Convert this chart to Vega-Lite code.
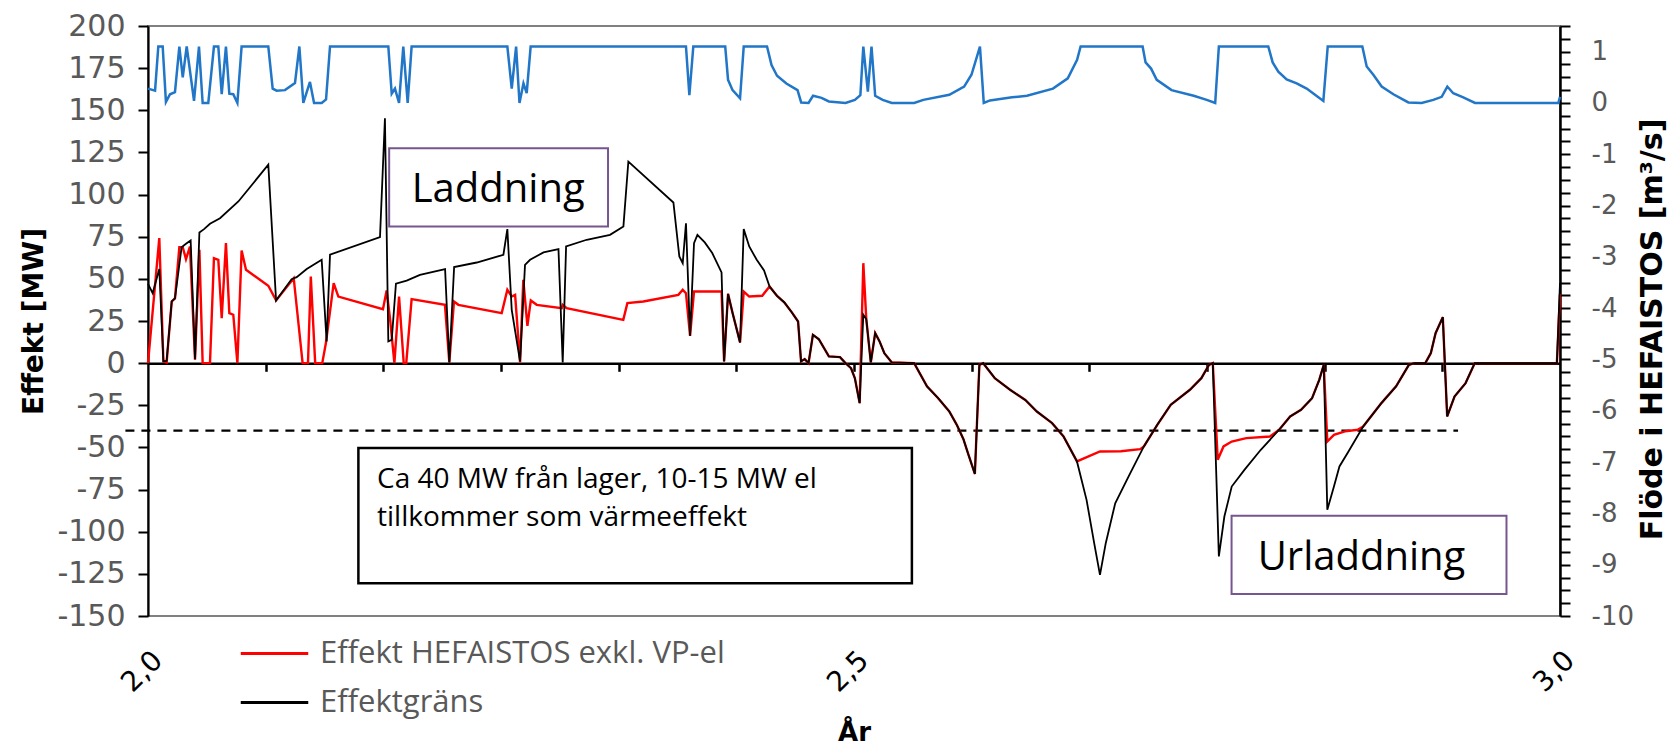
{
  "$schema": "https://vega.github.io/schema/vega-lite/v6.json",
  "width": 1412,
  "height": 590,
  "autosize": "none",
  "padding": {"left": 148, "top": 26, "right": 113, "bottom": 131},
  "background": "white",
  "config": {
    "view": {"stroke": "#808080", "strokeWidth": 2},
    "axis": {"labelOverlap": false, "grid": false}
  },
  "datasets": {
    "red": [
      {"t":2.0,"v":0},{"t":2.008,"v":74.2},{"t":2.0109,"v":1},{"t":2.0132,"v":0.4},{"t":2.0168,"v":36.6},{"t":2.0191,"v":38.4},{"t":2.0222,"v":68.8},{"t":2.0246,"v":68.8},{"t":2.0269,"v":61.7},{"t":2.0297,"v":69.2},{"t":2.0333,"v":2},{"t":2.0364,"v":67.2},{"t":2.0387,"v":0},{"t":2.0439,"v":0},{"t":2.0467,"v":62.3},{"t":2.0498,"v":61.3},{"t":2.0522,"v":26.7},{"t":2.0552,"v":71.2},{"t":2.0576,"v":29.7},{"t":2.0604,"v":28.7},{"t":2.0633,"v":0},{"t":2.0663,"v":66.8},{"t":2.0694,"v":55.4},{"t":2.0852,"v":45.9},{"t":2.0907,"v":37.2},{"t":2.1032,"v":50.4},{"t":2.1095,"v":0},{"t":2.1133,"v":0},{"t":2.1153,"v":51.4},{"t":2.1184,"v":0},{"t":2.1234,"v":0},{"t":2.126,"v":11.9},{"t":2.1315,"v":47.5},{"t":2.1348,"v":39.5},{"t":2.1664,"v":32},{"t":2.169,"v":43.1},{"t":2.1715,"v":25.7},{"t":2.1745,"v":0},{"t":2.1778,"v":39.5},{"t":2.1811,"v":0},{"t":2.1829,"v":0},{"t":2.1867,"v":38},{"t":2.2103,"v":34.6},{"t":2.2134,"v":0.4},{"t":2.2167,"v":36.6},{"t":2.2198,"v":34.6},{"t":2.2505,"v":29.7},{"t":2.2545,"v":43.5},{"t":2.2576,"v":39.5},{"t":2.26,"v":40.5},{"t":2.2635,"v":0.4},{"t":2.2658,"v":49.4},{"t":2.2687,"v":22.1},{"t":2.2711,"v":37.2},{"t":2.2753,"v":34.6},{"t":2.293,"v":32.6},{"t":2.2937,"v":34.6},{"t":2.2965,"v":32.6},{"t":2.3366,"v":25.7},{"t":2.3395,"v":35.6},{"t":2.3508,"v":36.6},{"t":2.3756,"v":40.5},{"t":2.3787,"v":43.5},{"t":2.381,"v":41.5},{"t":2.3839,"v":16.2},{"t":2.3867,"v":42.5},{"t":2.4062,"v":42.5},{"t":2.408,"v":1.0},{"t":2.4108,"v":41.1},{"t":2.414,"v":29.7},{"t":2.4193,"v":12.3},{"t":2.4219,"v":42.5},{"t":2.4258,"v":39.5},{"t":2.435,"v":40},{"t":2.4402,"v":45.5},{"t":2.4455,"v":39.9},{"t":2.4507,"v":36},{"t":2.456,"v":30.1},{"t":2.4604,"v":24.7},{"t":2.4625,"v":1.0},{"t":2.4651,"v":2.4},{"t":2.4678,"v":0},{"t":2.4709,"v":16.8},{"t":2.4751,"v":14.2},{"t":2.4788,"v":8.9},{"t":2.4822,"v":4},{"t":2.4901,"v":3.6},{"t":2.494,"v":0},{"t":2.4979,"v":-3},{"t":2.5006,"v":-8.9},{"t":2.504,"v":-23.7},{"t":2.5066,"v":59.3},{"t":2.5087,"v":26.1},{"t":2.5119,"v":0.4},{"t":2.515,"v":17.8},{"t":2.5181,"v":12.9},{"t":2.5215,"v":5.9},{"t":2.5268,"v":0.4},{"t":2.5426,"v":0},{"t":2.5465,"v":-5.9},{"t":2.5517,"v":-13.8},{"t":2.5596,"v":-20.8},{"t":2.5675,"v":-28.7},{"t":2.5728,"v":-36.6},{"t":2.5775,"v":-45.1},{"t":2.5807,"v":-53.4},{"t":2.5856,"v":-65.7},{"t":2.5888,"v":-1},{"t":2.5915,"v":0},{"t":2.5997,"v":-8.9},{"t":2.6105,"v":-15.8},{"t":2.6213,"v":-21.8},{"t":2.6295,"v":-28.7},{"t":2.6403,"v":-35.6},{"t":2.6484,"v":-43.5},{"t":2.6579,"v":-58.3},{"t":2.6742,"v":-52.4},{"t":2.689,"v":-52.3},{"t":2.7027,"v":-51},{"t":2.7053,"v":-49.4},{"t":2.7148,"v":-36.6},{"t":2.7243,"v":-24.7},{"t":2.7379,"v":-15.8},{"t":2.746,"v":-8.9},{"t":2.7514,"v":-1},{"t":2.7541,"v":0},{"t":2.7576,"v":-57.3},{"t":2.7617,"v":-49.4},{"t":2.7675,"v":-46.5},{"t":2.7778,"v":-44.5},{"t":2.7946,"v":-43.5},{"t":2.8011,"v":-39.5},{"t":2.8089,"v":-31.6},{"t":2.8166,"v":-27.7},{"t":2.8244,"v":-20.8},{"t":2.8295,"v":-9.9},{"t":2.8327,"v":-1},{"t":2.8352,"v":-46.5},{"t":2.8399,"v":-42.5},{"t":2.8477,"v":-40.5},{"t":2.8567,"v":-39.5},{"t":2.8606,"v":-37.6},{"t":2.8735,"v":-23.7},{"t":2.8839,"v":-13.8},{"t":2.893,"v":-1},{"t":2.8969,"v":0},{"t":2.9046,"v":0},{"t":2.9085,"v":5.9},{"t":2.9119,"v":17.8},{"t":2.917,"v":27.3},{"t":2.9201,"v":-31.6},{"t":2.9253,"v":-19.8},{"t":2.9331,"v":-11.9},{"t":2.9396,"v":0},{"t":2.9978,"v":0},{"t":3.0,"v":41}
    ],
    "black": [
      {"t":2.0,"v":47},{"t":2.0033,"v":41.5},{"t":2.008,"v":55.8},{"t":2.0109,"v":1.0},{"t":2.0132,"v":1.4},{"t":2.0168,"v":36.6},{"t":2.0191,"v":38.4},{"t":2.0238,"v":68.8},{"t":2.0269,"v":70.8},{"t":2.0302,"v":72.8},{"t":2.0333,"v":2.4},{"t":2.0364,"v":77.5},{"t":2.0397,"v":79.5},{"t":2.0439,"v":82.7},{"t":2.051,"v":86},{"t":2.064,"v":95.9},{"t":2.0852,"v":117.7},{"t":2.0907,"v":37.2},{"t":2.1017,"v":49.8},{"t":2.1053,"v":51},{"t":2.1124,"v":55.8},{"t":2.123,"v":61.3},{"t":2.1265,"v":12.9},{"t":2.1289,"v":64.3},{"t":2.1643,"v":74.7},{"t":2.1678,"v":145.3},{"t":2.1702,"v":12.9},{"t":2.1726,"v":13.8},{"t":2.1756,"v":47.1},{"t":2.1832,"v":49},{"t":2.1926,"v":52.4},{"t":2.2104,"v":55.8},{"t":2.2134,"v":0.4},{"t":2.2168,"v":57},{"t":2.2328,"v":59.7},{"t":2.2517,"v":64.3},{"t":2.2545,"v":79.5},{"t":2.2576,"v":31.6},{"t":2.2635,"v":1},{"t":2.267,"v":58.3},{"t":2.2706,"v":61.3},{"t":2.2801,"v":65.7},{"t":2.2907,"v":67.6},{"t":2.2937,"v":0.4},{"t":2.2961,"v":69.2},{"t":2.3107,"v":73.2},{"t":2.3272,"v":76.1},{"t":2.3367,"v":81.1},{"t":2.3402,"v":119.6},{"t":2.3721,"v":95.3},{"t":2.3763,"v":63.3},{"t":2.3787,"v":59.3},{"t":2.381,"v":83},{"t":2.3839,"v":16.2},{"t":2.3867,"v":71.2},{"t":2.3891,"v":76.1},{"t":2.3943,"v":71.6},{"t":2.3996,"v":65.3},{"t":2.4062,"v":53.8},{"t":2.408,"v":1.0},{"t":2.4108,"v":41.1},{"t":2.414,"v":29.7},{"t":2.4193,"v":12.3},{"t":2.4219,"v":79.5},{"t":2.4258,"v":69.2},{"t":2.4311,"v":61.3},{"t":2.4363,"v":55},{"t":2.4402,"v":45.5},{"t":2.4455,"v":39.9},{"t":2.4507,"v":36},{"t":2.456,"v":30.1},{"t":2.4604,"v":24.7},{"t":2.4625,"v":1.0},{"t":2.4651,"v":2.4},{"t":2.4678,"v":0},{"t":2.4709,"v":16.8},{"t":2.4751,"v":14.2},{"t":2.4788,"v":8.9},{"t":2.4822,"v":4},{"t":2.4901,"v":3.6},{"t":2.494,"v":0},{"t":2.4979,"v":-3},{"t":2.5006,"v":-8.9},{"t":2.504,"v":-23.7},{"t":2.5066,"v":28.7},{"t":2.5087,"v":26.1},{"t":2.5119,"v":0.4},{"t":2.515,"v":17.8},{"t":2.5181,"v":12.9},{"t":2.5215,"v":5.9},{"t":2.5268,"v":0.4},{"t":2.5426,"v":0},{"t":2.5465,"v":-5.9},{"t":2.5517,"v":-13.8},{"t":2.5596,"v":-20.8},{"t":2.5675,"v":-28.7},{"t":2.5728,"v":-36.6},{"t":2.5775,"v":-45.1},{"t":2.5807,"v":-53.4},{"t":2.5856,"v":-65.7},{"t":2.5888,"v":-1},{"t":2.5915,"v":0},{"t":2.5997,"v":-8.9},{"t":2.6105,"v":-15.8},{"t":2.6213,"v":-21.8},{"t":2.6295,"v":-28.7},{"t":2.6403,"v":-35.6},{"t":2.6484,"v":-43.5},{"t":2.6579,"v":-58.3},{"t":2.6647,"v":-81.1},{"t":2.6701,"v":-106.8},{"t":2.6742,"v":-125.6},{"t":2.6783,"v":-106.8},{"t":2.685,"v":-83.1},{"t":2.6945,"v":-67.2},{"t":2.7053,"v":-49.4},{"t":2.7148,"v":-36.6},{"t":2.7243,"v":-24.7},{"t":2.7379,"v":-15.8},{"t":2.746,"v":-8.9},{"t":2.7514,"v":-1},{"t":2.7541,"v":0},{"t":2.7584,"v":-114.7},{"t":2.7623,"v":-91},{"t":2.7675,"v":-73.2},{"t":2.7765,"v":-63.3},{"t":2.7881,"v":-51.4},{"t":2.8011,"v":-39.5},{"t":2.8089,"v":-31.6},{"t":2.8166,"v":-27.7},{"t":2.8244,"v":-20.8},{"t":2.8295,"v":-9.9},{"t":2.8327,"v":-1},{"t":2.8352,"v":-87},{"t":2.8399,"v":-73.2},{"t":2.8438,"v":-61.3},{"t":2.8502,"v":-52.4},{"t":2.8606,"v":-37.6},{"t":2.8735,"v":-23.7},{"t":2.8839,"v":-13.8},{"t":2.893,"v":-1},{"t":2.8969,"v":0},{"t":2.9046,"v":0},{"t":2.9085,"v":5.9},{"t":2.9119,"v":17.8},{"t":2.917,"v":27.3},{"t":2.9201,"v":-31.6},{"t":2.9253,"v":-19.8},{"t":2.9331,"v":-11.9},{"t":2.9396,"v":0},{"t":2.9978,"v":0},{"t":3.0,"v":47.5}
    ],
    "blue": [
      {"t":2.0,"v":0.28},{"t":2.005,"v":0.24},{"t":2.0073,"v":1.1},{"t":2.0104,"v":1.1},{"t":2.0127,"v":0.02},{"t":2.0156,"v":0.17},{"t":2.0191,"v":0.21},{"t":2.0222,"v":1.1},{"t":2.0246,"v":0.5},{"t":2.0274,"v":1.1},{"t":2.0326,"v":0.04},{"t":2.0361,"v":1.1},{"t":2.0387,"v":0},{"t":2.0427,"v":0},{"t":2.0467,"v":1.1},{"t":2.0498,"v":1.1},{"t":2.0522,"v":0.17},{"t":2.0552,"v":1.1},{"t":2.0576,"v":0.18},{"t":2.0604,"v":0.17},{"t":2.0633,"v":0},{"t":2.0663,"v":1.1},{"t":2.0852,"v":1.1},{"t":2.0883,"v":0.28},{"t":2.0911,"v":0.24},{"t":2.097,"v":0.25},{"t":2.1041,"v":0.39},{"t":2.1072,"v":1.1},{"t":2.11,"v":0},{"t":2.1147,"v":0.41},{"t":2.1176,"v":0},{"t":2.123,"v":0},{"t":2.1261,"v":0.07},{"t":2.1289,"v":1.1},{"t":2.1702,"v":1.1},{"t":2.1726,"v":0.18},{"t":2.1749,"v":0.28},{"t":2.1778,"v":0},{"t":2.1808,"v":1.1},{"t":2.1839,"v":0},{"t":2.1867,"v":1.1},{"t":2.2545,"v":1.1},{"t":2.2576,"v":0.28},{"t":2.2607,"v":1.1},{"t":2.2631,"v":0},{"t":2.2659,"v":0.38},{"t":2.2682,"v":0.19},{"t":2.271,"v":1.1},{"t":2.381,"v":1.1},{"t":2.3834,"v":0.15},{"t":2.3862,"v":1.1},{"t":2.4088,"v":1.1},{"t":2.4108,"v":0.45},{"t":2.414,"v":0.25},{"t":2.4193,"v":0.09},{"t":2.4219,"v":1.1},{"t":2.4384,"v":1.1},{"t":2.4416,"v":0.74},{"t":2.4455,"v":0.53},{"t":2.4521,"v":0.38},{"t":2.46,"v":0.25},{"t":2.4626,"v":0.01},{"t":2.4678,"v":0},{"t":2.471,"v":0.14},{"t":2.477,"v":0.1},{"t":2.4822,"v":0.03},{"t":2.494,"v":0},{"t":2.5006,"v":0.06},{"t":2.5045,"v":0.15},{"t":2.5066,"v":1.1},{"t":2.5098,"v":0.22},{"t":2.5124,"v":1.1},{"t":2.515,"v":0.14},{"t":2.5203,"v":0.06},{"t":2.5268,"v":0},{"t":2.5426,"v":0},{"t":2.5491,"v":0.06},{"t":2.5675,"v":0.16},{"t":2.578,"v":0.32},{"t":2.5832,"v":0.55},{"t":2.5892,"v":1.1},{"t":2.5919,"v":0},{"t":2.5963,"v":0.05},{"t":2.612,"v":0.11},{"t":2.6225,"v":0.14},{"t":2.6409,"v":0.28},{"t":2.6514,"v":0.48},{"t":2.658,"v":0.84},{"t":2.6605,"v":1.1},{"t":2.7044,"v":1.1},{"t":2.7065,"v":0.79},{"t":2.7104,"v":0.67},{"t":2.7144,"v":0.45},{"t":2.7249,"v":0.25},{"t":2.7406,"v":0.14},{"t":2.7498,"v":0.06},{"t":2.7558,"v":0},{"t":2.7584,"v":1.1},{"t":2.7934,"v":1.1},{"t":2.7965,"v":0.79},{"t":2.8005,"v":0.61},{"t":2.8064,"v":0.46},{"t":2.8135,"v":0.38},{"t":2.8206,"v":0.28},{"t":2.8265,"v":0.16},{"t":2.8324,"v":0.04},{"t":2.8355,"v":1.1},{"t":2.86,"v":1.1},{"t":2.8631,"v":0.71},{"t":2.8678,"v":0.55},{"t":2.8737,"v":0.32},{"t":2.882,"v":0.17},{"t":2.8926,"v":0.01},{"t":2.902,"v":0},{"t":2.9103,"v":0.06},{"t":2.9162,"v":0.12},{"t":2.9202,"v":0.32},{"t":2.9244,"v":0.19},{"t":2.9315,"v":0.11},{"t":2.9398,"v":0},{"t":2.9988,"v":0},{"t":3.0,"v":0.12}
    ],
    "boxes": [
      {"k":"p","t1":2.1708,"t2":2.3258,"v1":127.5,"v2":81},
      {"k":"p","t1":2.7674,"t2":2.9621,"v1":-90.6,"v2":-136.9},
      {"k":"b","t1":2.149,"t2":2.541,"v1":-50.4,"v2":-130.5}
    ],
    "dash": [{"t1":1.984,"t2":2.9278,"v":-40}],
    "labels": [
      {"t":2.248,"v":95.5,"txt":"Laddning"},
      {"t":2.8594,"v":-123,"txt":"Urladdning"}
    ],
    "note": [
      {"t":2.1622,"v":-74.2,"txt":"Ca 40 MW från lager, 10-15 MW el"},
      {"t":2.1622,"v":-96.9,"txt":"tillkommer som värmeeffekt"}
    ]
  },
  "layer": [
    {
      "data": {"name": "boxes"},
      "transform": [{"filter": "datum.k == 'p'"}],
      "mark": {"type": "rect", "fill": "white", "stroke": "#76568f", "strokeWidth": 2},
      "encoding": {
        "x": {"field": "t1", "type": "quantitative", "scale": {"domain": [2, 3], "nice": false, "zero": false}, "axis": null},
        "x2": {"field": "t2"},
        "y": {"field": "v1", "type": "quantitative", "scale": {"domain": [-150, 200], "nice": false, "zero": false}, "axis": null},
        "y2": {"field": "v2"}
      }
    },
    {
      "data": {"name": "boxes"},
      "transform": [{"filter": "datum.k == 'b'"}],
      "mark": {"type": "rect", "fill": "white", "stroke": "#000000", "strokeWidth": 2.5},
      "encoding": {
        "x": {"field": "t1", "type": "quantitative", "scale": {"domain": [2, 3], "nice": false, "zero": false}, "axis": null},
        "x2": {"field": "t2"},
        "y": {"field": "v1", "type": "quantitative", "scale": {"domain": [-150, 200], "nice": false, "zero": false}, "axis": null},
        "y2": {"field": "v2"}
      }
    },
    {
      "data": {"name": "dash"},
      "mark": {"type": "rule", "color": "#000000", "strokeWidth": 2.2, "strokeDash": [9, 7]},
      "encoding": {
        "x": {"field": "t1", "type": "quantitative", "scale": {"domain": [2, 3], "nice": false, "zero": false}, "axis": null},
        "x2": {"field": "t2"},
        "y": {"field": "v", "type": "quantitative", "scale": {"domain": [-150, 200], "nice": false, "zero": false}, "axis": null}
      }
    },
    {
      "data": {"name": "red"},
      "mark": {"type": "line", "strokeWidth": 2.4},
      "encoding": {
        "x": {
          "field": "t", "type": "quantitative",
          "scale": {"domain": [2, 3], "nice": false, "zero": false},
          "axis": {
            "orient": "bottom", "values": [2, 2.5, 3],
            "labelExpr": "replace(format(datum.value, '.1f'), '.', ',')",
            "labelAngle": -45, "labelFont": "DejaVu Sans", "labelFontSize": 28, "labelColor": "#000000",
            "ticks": false, "domain": false, "grid": false, "labelPadding": 30, "labelFlush": false,
            "title": "År", "titleFont": "DejaVu Sans", "titleFontWeight": "bold", "titleFontSize": 26,
            "titleColor": "#000000", "titlePadding": 22
          }
        },
        "y": {
          "field": "v", "type": "quantitative",
          "scale": {"domain": [-150, 200], "nice": false, "zero": false},
          "axis": {
            "orient": "left",
            "values": [-150, -125, -100, -75, -50, -25, 0, 25, 50, 75, 100, 125, 150, 175, 200],
            "labelExpr": "'' + datum.value",
            "labelFont": "DejaVu Sans", "labelFontSize": 30, "labelColor": "#595959", "labelPadding": 13,
            "tickSize": 10, "tickWidth": 2, "tickColor": "#000000",
            "domain": true, "domainColor": "#000000", "domainWidth": 2.2, "grid": false,
            "title": "Effekt [MW]", "titleFont": "DejaVu Sans", "titleFontWeight": "bold", "titleFontSize": 28,
            "titleColor": "#000000", "titlePadding": 8
          }
        },
        "color": {
          "datum": "Effekt HEFAISTOS exkl. VP-el", "type": "nominal",
          "scale": {"domain": ["Effekt HEFAISTOS exkl. VP-el", "Effektgräns"], "range": ["#ff0000", "#000000"]},
          "legend": {
            "orient": "none", "legendX": 111, "legendY": 612, "title": null, "padding": 0,
            "symbolType": "M-2.5,0H2.5", "symbolSize": 729, "symbolStrokeWidth": 3,
            "labelFont": "Open Sans", "labelFontSize": 31, "labelColor": "#595959",
            "labelOffset": 30, "rowPadding": 17, "labelLimit": 1000
          }
        }
      }
    },
    {
      "data": {"name": "black"},
      "mark": {"type": "line", "strokeWidth": 1.8},
      "encoding": {
        "x": {
          "field": "t", "type": "quantitative",
          "scale": {"domain": [2, 3], "nice": false, "zero": false},
          "axis": {
            "orient": "bottom", "offset": -252.7,
            "values": [2.083333, 2.166667, 2.25, 2.333333, 2.416667, 2.5, 2.583333, 2.666667, 2.75, 2.833333, 2.916667],
            "labels": false, "ticks": true, "tickSize": 8, "tickWidth": 2.5, "tickColor": "#000000",
            "domain": true, "domainColor": "#000000", "domainWidth": 2.5, "grid": false, "title": null
          }
        },
        "y": {"field": "v", "type": "quantitative", "scale": {"domain": [-150, 200], "nice": false, "zero": false}, "axis": null},
        "color": {"datum": "Effektgräns", "type": "nominal"}
      }
    },
    {
      "data": {"name": "labels"},
      "mark": {"type": "text", "font": "Open Sans", "fontSize": 40, "color": "#000000", "align": "center", "baseline": "alphabetic"},
      "encoding": {
        "x": {"field": "t", "type": "quantitative", "scale": {"domain": [2, 3], "nice": false, "zero": false}, "axis": null},
        "y": {"field": "v", "type": "quantitative", "scale": {"domain": [-150, 200], "nice": false, "zero": false}, "axis": null},
        "text": {"field": "txt"}
      }
    },
    {
      "data": {"name": "note"},
      "mark": {"type": "text", "font": "Open Sans", "fontSize": 28, "color": "#000000", "align": "left", "baseline": "alphabetic"},
      "encoding": {
        "x": {"field": "t", "type": "quantitative", "scale": {"domain": [2, 3], "nice": false, "zero": false}, "axis": null},
        "y": {"field": "v", "type": "quantitative", "scale": {"domain": [-150, 200], "nice": false, "zero": false}, "axis": null},
        "text": {"field": "txt"}
      }
    },
    {
      "data": {"name": "blue"},
      "mark": {"type": "line", "color": "#2176c7", "strokeWidth": 2.5},
      "encoding": {
        "x": {"field": "t", "type": "quantitative", "scale": {"domain": [2, 3], "nice": false, "zero": false}, "axis": null},
        "y": {
          "field": "v", "type": "quantitative",
          "scale": {"domain": [-10, 1.5], "nice": false, "zero": false},
          "axis": {
            "orient": "right",
            "values": [-10, -9.75, -9.5, -9.25, -9, -8.75, -8.5, -8.25, -8, -7.75, -7.5, -7.25, -7, -6.75, -6.5, -6.25, -6, -5.75, -5.5, -5.25, -5, -4.75, -4.5, -4.25, -4, -3.75, -3.5, -3.25, -3, -2.75, -2.5, -2.25, -2, -1.75, -1.5, -1.25, -1, -0.75, -0.5, -0.25, 0, 0.25, 0.5, 0.75, 1, 1.25, 1.5],
            "labelExpr": "datum.value % 1 == 0 ? '' + datum.value : ''",
            "labelFont": "DejaVu Sans", "labelFontSize": 26, "labelColor": "#595959", "labelPadding": 21,
            "tickSize": 10, "tickWidth": 2, "tickColor": "#000000",
            "domainColor": "#000000", "domainWidth": 2.5, "grid": false,
            "title": "Flöde i HEFAISTOS [m³/s]", "titleFont": "DejaVu Sans", "titleFontWeight": "bold", "titleFontSize": 30,
            "titleColor": "#000000", "titlePadding": 4, "titleAngle": 270, "titleBaseline": "top",
            "titleAlign": "center", "titleY": 303
          }
        }
      }
    }
  ],
  "resolve": {"scale": {"y": "independent"}, "axis": {"x": "independent", "y": "independent"}}
}
